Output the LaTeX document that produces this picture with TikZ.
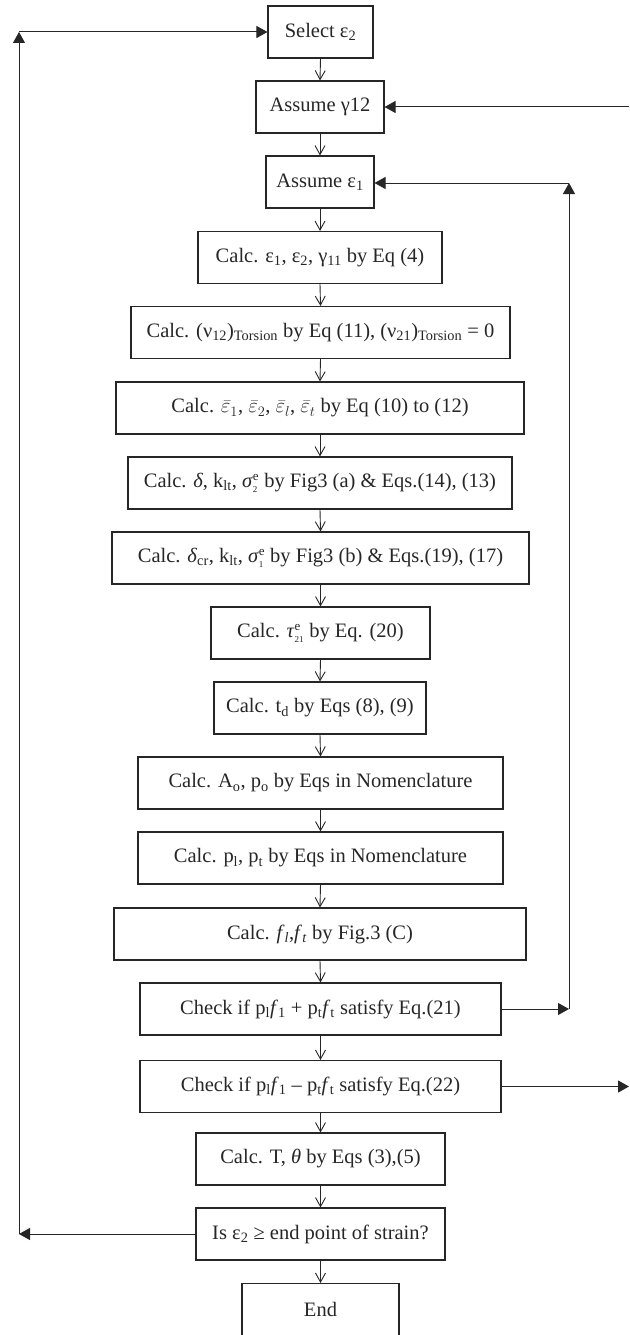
\documentclass[tikz,border=0pt]{standalone}
\usepackage{fontspec}
\setmainfont{Liberation Serif}
\usetikzlibrary{arrows.meta}
\definecolor{ink}{HTML}{262626}
\newcommand{\sbs}[1]{\textsubscript{#1}}
\newcommand{\supsb}[2]{$^{\hbox{\fontsize{13}{13}\selectfont #1}}_{\hbox{\fontsize{9}{9}\selectfont #2}}$}
\begin{document}
\begin{tikzpicture}[x=1pt,y=-1pt,
  box/.style={draw=ink, line width=1.1pt, minimum height=52pt, inner sep=2pt, text=ink,
    font=\fontsize{20.5}{24}\selectfont},
  flow/.style={draw=ink, line width=0.9pt, -{Straight Barb[length=9pt,width=10pt,line width=0.9pt]}},
  back/.style={draw=ink, line width=1pt, -{Triangle[length=11pt,width=12pt]}},
  plain/.style={draw=ink, line width=1pt}]
\useasboundingbox (0,0) rectangle (629,1335);
\node[box, minimum width=105] (n1) at (320.5,32) {Select ε\sbs{2}};
\node[box, minimum width=128] (n2) at (320,107) {Assume γ12};
\node[box, minimum width=108] (n3) at (320,182) {Assume ε\sbs{1}};
\node[box, minimum width=244] (n4) at (320,257.5) {Calc. ε\sbs{1}, ε\sbs{2}, γ\sbs{11} by Eq (4)};
\node[box, minimum width=379] (n5) at (320.5,332.5) {Calc. (ν\sbs{12})\sbs{Torsion} by Eq (11), (ν\sbs{21})\sbs{Torsion} = 0};
\node[box, minimum width=408] (n6) at (320,408) {Calc. $\bar{\varepsilon}_1$, $\bar{\varepsilon}_2$, $\bar{\varepsilon}_l$, $\bar{\varepsilon}_t$ by Eq (10) to (12)};
\node[box, minimum width=384] (n7) at (320,483) {Calc. \textit{δ}, k\sbs{lt}, \textit{σ}\supsb{e}{2} by Fig3 (a) \& Eqs.(14), (13)};
\node[box, minimum width=417] (n8) at (320.5,558) {Calc. \textit{δ}\sbs{cr}, k\sbs{lt}, \textit{σ}\supsb{e}{1} by Fig3 (b) \& Eqs.(19), (17)};
\node[box, minimum width=219] (n9) at (320.5,633) {Calc. \textit{τ}\supsb{e}{21} by Eq. (20)};
\node[box, minimum width=212] (n10) at (320,708) {Calc. t\sbs{d} by Eqs (8), (9)};
\node[box, minimum width=365] (n11) at (320.5,783) {Calc. A\sbs{o}, p\sbs{o} by Eqs in Nomenclature};
\node[box, minimum width=365] (n12) at (320.5,858) {Calc. p\sbs{l}, p\sbs{t} by Eqs in Nomenclature};
\node[box, minimum width=412] (n13) at (320,934) {Calc. \textit{f}\sbs{\textit{l}},\textit{f}\sbs{\textit{t}} by Fig.3 (C)};
\node[box, minimum width=361] (n14) at (320.5,1009) {Check if p\sbs{l}\textit{f}\sbs{1} + p\sbs{t}\textit{f}\sbs{t} satisfy Eq.(21)};
\node[box, minimum width=361] (n15) at (320.5,1086.5) {Check if p\sbs{l}\textit{f}\sbs{1} – p\sbs{t}\textit{f}\sbs{t} satisfy Eq.(22)};
\node[box, minimum width=249] (n16) at (320.5,1159) {Calc. T, \textit{θ} by Eqs (3),(5)};
\node[box, minimum width=249] (n17) at (320.5,1234) {Is ε\sbs{2} ≥ end point of strain?};
\node[box, minimum width=157] (n18) at (320.5,1309.5) {End};
\foreach \a/\b in {n1/n2,n2/n3,n3/n4,n4/n5,n5/n6,n6/n7,n7/n8,n8/n9,n9/n10,n10/n11,n11/n12,n12/n13,n13/n14,n14/n15,n15/n16,n16/n17,n17/n18}
  \draw[flow] (\a.south) -- (\b.north);
% left loop
\coordinate (lb) at (19,1234);
\coordinate (lt) at (19,32);
\draw[back] (n17.west) -- (lb);
\draw[back] (lb) -- (lt);
\draw[back] (lt) -- (n1.west);
% right loop to epsilon1
\coordinate (rb) at (569,1009);
\coordinate (rt) at (569,183);
\draw[back] (n14.east) -- (rb);
\draw[back] (rb) -- (rt);
\draw[back] (rt) -- (n3.east |- rt);
% outer loop to gamma12
\coordinate (ob) at (629,1086.5);
\coordinate (ot) at (629,107);
\draw[back] (n15.east) -- (ob);
\draw[back] (ot) -- (n2.east);
\end{tikzpicture}
\end{document}
